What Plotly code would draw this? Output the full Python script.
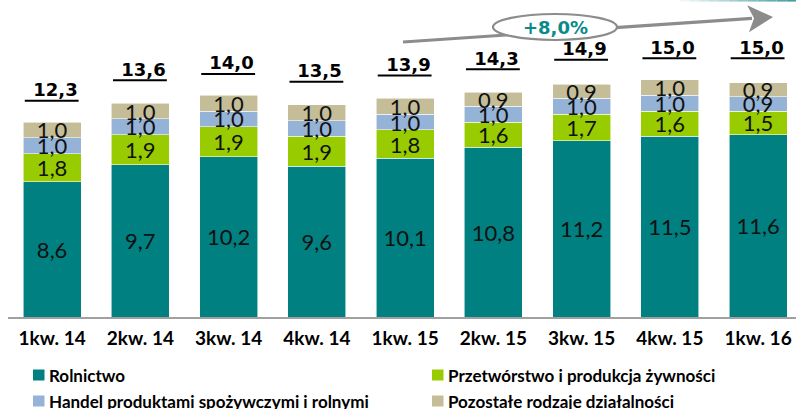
import plotly.graph_objects as go

# Quarterly values (bn PLN) by sector
quarters = ["1kw. 14", "2kw. 14", "3kw. 14", "4kw. 14", "1kw. 15",
            "2kw. 15", "3kw. 15", "4kw. 15", "1kw. 16"]
rolnictwo = [8.6, 9.7, 10.2, 9.6, 10.1, 10.8, 11.2, 11.5, 11.6]
przetworstwo = [1.8, 1.9, 1.9, 1.9, 1.8, 1.6, 1.7, 1.6, 1.5]
handel = [1.0, 1.0, 1.0, 1.0, 1.0, 1.0, 1.0, 1.0, 0.9]
pozostale = [1.0, 1.0, 1.0, 1.0, 1.0, 0.9, 0.9, 1.0, 0.9]
totals = [12.3, 13.6, 14.0, 13.5, 13.9, 14.3, 14.9, 15.0, 15.0]
growth_label = "+8,0%"

series = [
    ("Rolnictwo", rolnictwo, "#008080"),
    ("Przetwórstwo i produkcja żywności", przetworstwo, "#99CC00"),
    ("Handel produktami spożywczymi i rolnymi", handel, "#95B3D7"),
    ("Pozostałe rodzaje działalności", pozostale, "#C4BD97"),
]

W, H = 796, 409
ML, MB = 8, 92
PLOT_W, PLOT_H = W - ML, H - MB


def px_x(px):
    return (px - ML) / PLOT_W


def px_y(py):
    return (PLOT_H - py) / PLOT_H


xs = list(range(len(quarters)))
fig = go.Figure()
for name, vals, color in series:
    fig.add_trace(go.Bar(
        x=xs, y=vals, name=name,
        marker=dict(color=color, line=dict(color="rgba(255,255,255,0.7)", width=0.8)),
        texttemplate="%{y:.1f}", textposition="inside", insidetextanchor="middle",
        constraintext="none",
        textfont=dict(family="Lato", size=22, color="#111111"),
        hoverinfo="skip",
    ))

shapes = []
annotations = []

# Underlined totals above each column
for i, t in enumerate(totals):
    annotations.append(dict(
        x=i, y=t, xref="x", yref="y",
        text="\u00a0" + f"{t:.1f}".replace(".", ","),
        showarrow=False, yanchor="middle", yshift=34,
        font=dict(family="DejaVu Sans", size=18, color="#000000", weight="bold"),
    ))
    shapes.append(dict(
        type="line", xref="x", yref="y", x0=i - 0.31, x1=i + 0.30,
        ysizemode="pixel", yanchor=t, y0=23, y1=23,
        line=dict(color="#000000", width=2),
    ))

# Growth arrow with the ellipse badge
arrow_col = "#8C8C8C"
tail = (403, 42)
tip = (773, 17)
shapes.append(dict(type="line", xref="paper", yref="paper",
                   x0=px_x(tail[0]), y0=px_y(tail[1]),
                   x1=px_x(752), y1=px_y(18.4),
                   line=dict(color=arrow_col, width=3.2)))
dx, dy = tip[0] - tail[0], tip[1] - tail[1]
ln = (dx * dx + dy * dy) ** 0.5
ux, uy = dx / ln, dy / ln
nx, ny = -uy, ux
L, HW, NOTCH = 25, 13.5, 6
pts = [
    tip,
    (tip[0] - ux * L + nx * HW, tip[1] - uy * L + ny * HW),
    (tip[0] - ux * (L - NOTCH), tip[1] - uy * (L - NOTCH)),
    (tip[0] - ux * L - nx * HW, tip[1] - uy * L - ny * HW),
]
path = "M " + " L ".join(f"{px_x(a):.5f},{px_y(b):.5f}" for a, b in pts) + " Z"
shapes.append(dict(type="path", xref="paper", yref="paper", path=path,
                   fillcolor=arrow_col, line=dict(width=0)))
shapes.append(dict(type="circle", xref="paper", yref="paper",
                   x0=px_x(493), x1=px_x(617), y0=px_y(40), y1=px_y(14),
                   fillcolor="#FFFFFF", line=dict(color=arrow_col, width=2.2)))
annotations.append(dict(x=px_x(555), y=px_y(27.5), xref="paper", yref="paper",
                        text=growth_label, showarrow=False,
                        xanchor="center", yanchor="middle",
                        font=dict(family="DejaVu Sans", size=18, color="#0A8A8A",
                                  weight="bold")))

# Thin fading accent along the top edge
n_seg = 12
x_start, x_end = 680, 796
for k in range(n_seg):
    a = x_start + (x_end - x_start) * k / n_seg
    b = x_start + (x_end - x_start) * (k + 1) / n_seg
    f = (k + 1) / n_seg
    r = int(255 + (70 - 255) * f)
    g = int(255 + (160 - 255) * f)
    bl = int(255 + (160 - 255) * f)
    shapes.append(dict(type="line", xref="paper", yref="paper",
                       x0=px_x(a), x1=px_x(b), y0=px_y(0.8), y1=px_y(0.8),
                       line=dict(color=f"rgb({r},{g},{bl})", width=1.6)))

# Legend drawn as two columns of keys
legend_pos = [(33, 375), (432, 375), (33, 401), (432, 401)]
for (name, _, color), (lx, ly) in zip(series, legend_pos):
    shapes.append(dict(type="rect", xref="paper", yref="paper",
                       x0=px_x(lx), x1=px_x(lx + 11.5),
                       y0=px_y(ly + 5.5), y1=px_y(ly - 5.5),
                       fillcolor=color, line=dict(width=0)))
    annotations.append(dict(x=px_x(lx + 14), y=px_y(ly), xref="paper", yref="paper",
                            text=name, showarrow=False,
                            xanchor="left", yanchor="middle",
                            font=dict(family="Lato", size=17, color="#000000",
                                      weight="bold")))

fig.update_layout(
    width=W, height=H,
    margin=dict(l=ML, r=0, t=0, b=MB, pad=0),
    barmode="stack", bargap=0.343,
    separators=", ",
    plot_bgcolor="#FFFFFF", paper_bgcolor="#FFFFFF",
    showlegend=False,
    shapes=shapes, annotations=annotations,
    xaxis=dict(range=[-0.5, 8.43], tickvals=xs, ticktext=quarters,
               showline=True, linecolor="#A0A0A0", linewidth=2,
               showgrid=False, zeroline=False, ticks="", ticklabelstandoff=3,
               tickfont=dict(family="Lato", size=19, color="#000000", weight="bold"),
               fixedrange=True),
    yaxis=dict(range=[0, PLOT_H / 15.72], visible=False, fixedrange=True),
)

fig.write_html("out.html", config={"displayModeBar": False})
